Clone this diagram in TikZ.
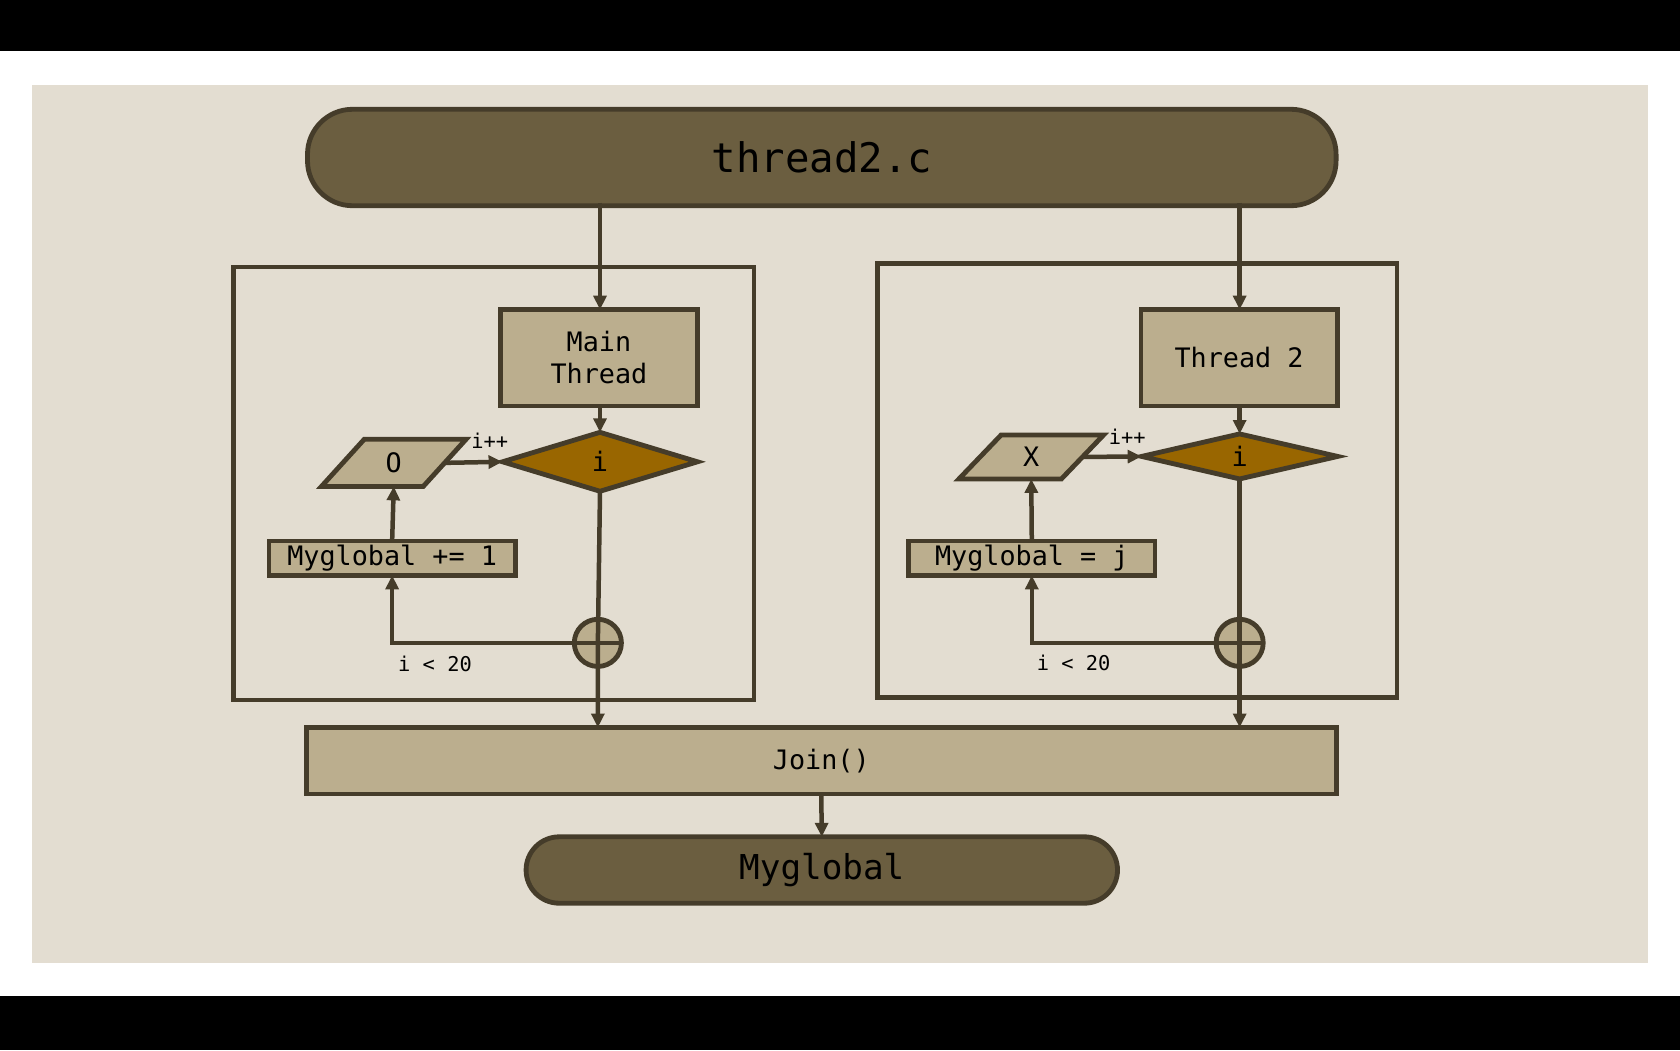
\documentclass[tikz,border=0pt]{standalone}
\usepackage{fontspec}
\setmainfont{DejaVu Sans Mono}
\usetikzlibrary{shapes.geometric,arrows.meta}
\definecolor{bgpanel}{HTML}{E3DDD1}
\definecolor{edgec}{HTML}{453C2A}
\definecolor{darkfill}{HTML}{6B5E40}
\definecolor{lightfill}{HTML}{BBAE8E}
\definecolor{ochre}{HTML}{996600}
\begin{document}
\begin{tikzpicture}[x=1pt,y=-1pt,
  every node/.style={inner sep=0pt,outer sep=0pt,text=black},
  term/.style={draw=edgec,fill=darkfill,line width=4.5pt,rounded corners=42pt,font=\fontsize{38}{40}\selectfont},
  proc/.style={draw=edgec,fill=lightfill,line width=4.5pt,align=center,font=\fontsize{25}{30}\selectfont},
  dec/.style={diamond,draw=edgec,fill=ochre,line width=4.5pt,font=\fontsize{25}{30}\selectfont},
  para/.style={trapezium,trapezium left angle=60,trapezium right angle=120,trapezium stretches=true,
     draw=edgec,fill=lightfill,line width=4.5pt,font=\fontsize{25}{30}\selectfont},
  junction/.style={circle,draw=edgec,fill=lightfill,line width=4.5pt,minimum size=44pt},
  frame/.style={draw=edgec,line width=4pt},
  lbl/.style={font=\fontsize{19}{22}\selectfont},
  conn/.style={draw=edgec,line width=4.2pt,-{Triangle[length=13pt,width=12pt]}}]
\useasboundingbox (0,0) rectangle (1568,980);
\fill[black] (0,0) rectangle (1568,980);
\fill[white] (0,48) rectangle (1568,930);
\fill[bgpanel] (30,79) rectangle (1538,899);

% frames
\node[frame,minimum width=486pt,minimum height=404pt] (boxL) at (461,451) {};
\node[frame,minimum width=485pt,minimum height=405pt] (boxR) at (1061.5,448.5) {};

% nodes
\node[term,minimum width=960pt,minimum height=90pt] (top) at (767,147) {thread2.c};
\node[proc,minimum width=184pt,minimum height=90pt] (mt) at (559,334) {Main\\Thread};
\node[proc,minimum width=183pt,minimum height=90pt] (t2) at (1156.5,334) {Thread 2};
\node[dec,minimum width=182pt,minimum height=55pt] (dL) at (560,431) {i};
\node[dec,minimum width=183pt,minimum height=42pt] (dR) at (1157,426) {i};
\node[para,minimum width=135pt,minimum height=44pt] (pL) at (367.5,432) {O};
\node[para,minimum width=135pt,minimum height=41pt] (pR) at (962.5,426.5) {X};
\node[proc,minimum width=230pt,minimum height=32pt] (mgL) at (366,521) {Myglobal += 1};
\node[proc,minimum width=230pt,minimum height=32pt] (mgR) at (963,521) {Myglobal = j};
\node[junction] (cL) at (558,600) {};
\node[junction] (cR) at (1157,600) {};
\node[proc,minimum width=961pt,minimum height=62pt] (join) at (766.5,710) {Join()};
\node[term,minimum width=552pt,minimum height=62pt,rounded corners=31pt,font=\fontsize{32}{36}\selectfont] (myg) at (767,812) {Myglobal};

% labels
\node[lbl] (ltL) at (406,620) {i < 20};
\node[lbl] (ltR) at (1002,619) {i < 20};
\node[lbl] (ipL) at (457,411) {i++};
\node[lbl] (ipR) at (1052,408) {i++};

% connectors
\draw[conn] ([yshift=3pt]top.south -| dL.north) -- (mt.north -| dL.north);
\draw[conn] ([yshift=3pt]top.south -| dR.north) -- (t2.north -| dR.north);
\draw[conn] (mt.south -| dL.north) -- (dL.north);
\draw[conn] (t2.south -| dR.north) -- (dR.north);
\draw[conn] (dL.south) -- (cL.center) -- (cL.center |- join.north);
\draw[conn] (dR.south) -- (cR.center) -- (cR.center |- join.north);
\draw[conn] (cL.east) -| (mgL.south);
\draw[conn] (cR.east) -| (mgR.south);
\draw[conn] (mgL.north) -- (pL.south);
\draw[conn] (mgR.north) -- (pR.south);
\draw[conn] (pL.east) -- (dL.west);
\draw[conn] (pR.east) -- (dR.west);
\draw[conn] (join.south) -- (myg.north);
\end{tikzpicture}
\end{document}
